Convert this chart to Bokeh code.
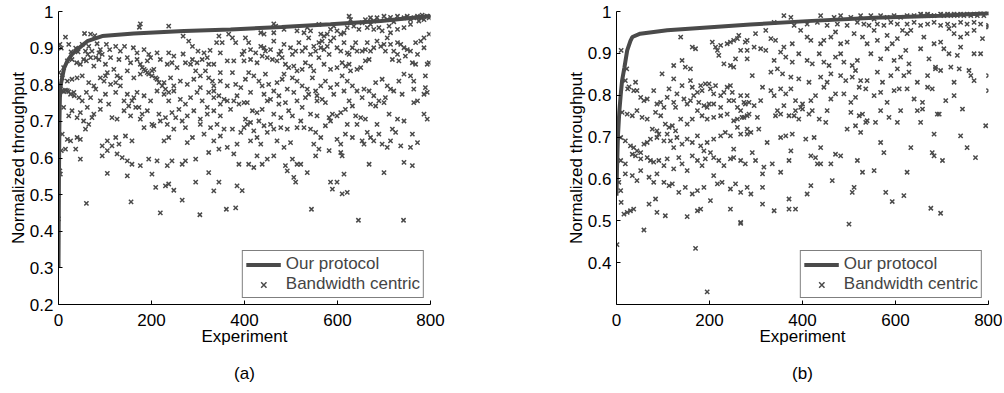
from bokeh.plotting import figure
from bokeh.layouts import row
from bokeh.models import (FixedTicker, CustomJSTickFormatter, Legend, LegendItem,
                          LinearAxis, Range1d)
from bokeh.embed import file_html
from bokeh.resources import INLINE

FONT = "Liberation Sans"

# ---------------- Panel (a) ----------------
a_protocol_x = [0, 1, 2, 3, 5, 8, 12, 19, 29, 44, 62, 94, 162, 270, 370, 480, 585, 693, 800]
a_protocol_y = [0.30, 0.55, 0.70, 0.765, 0.80, 0.82, 0.845, 0.865, 0.883, 0.90, 0.919, 0.933,
                0.94, 0.947, 0.951, 0.958, 0.965, 0.974, 0.988]

a_experiment = [
    176, 174, 237, 15, 56, 69, 78, 268, 345, 352, 366,
    3, 6, 22, 27, 37, 42, 51, 65, 83, 90, 103, 110, 123, 133, 142, 161, 169, 184, 194, 212, 237, 248, 268, 280, 288, 300, 313, 326, 340, 348,
    11, 19, 29, 39, 47, 60, 69, 76, 87, 94, 101, 112, 119, 130, 148, 155, 169, 176, 191, 198, 205, 219, 234, 244, 255, 273, 288, 298, 309, 320, 334, 348, 363,
    1, 8, 19, 29, 40, 51, 65, 76, 98, 105, 123, 133, 148, 162, 176, 184, 191, 201, 212, 227, 241, 248, 262, 277, 291, 305, 323, 334, 348, 363,
    4, 11, 19, 26, 34, 44, 51, 60, 69, 80, 90, 101, 108, 123, 133, 148, 158, 169, 184, 198, 212, 227, 237, 248, 262, 273, 284, 298, 309, 320, 334, 348, 363,
    11, 22, 29, 40, 47, 62, 76, 90, 115, 126, 141, 155, 166, 176, 191, 201, 216, 230, 244, 259, 277, 291, 305, 320, 334, 348, 370,
    8, 19, 26, 40, 47, 58, 94, 105, 123, 130, 144, 158, 184, 205, 227, 237, 248, 277, 288, 313, 334, 348, 363,
    6, 15, 37, 47, 94, 105, 115, 126, 137, 148, 158, 176, 194, 212, 234, 244, 266, 273, 295, 323, 345,
    3, 4, 105, 148, 201, 209, 230, 237, 248, 266, 295, 323, 334, 345,
    0, 60, 156, 219, 304, 361, 381, 544, 645, 742,
    8, 15, 22, 33, 58, 63, 72, 80, 87, 54, 180, 187, 194, 201, 209, 216, 223, 230, 237,
    284, 295, 305, 316, 323, 331, 323, 334, 345, 356, 90, 101, 112, 126, 141, 151, 162, 173, 180,
    54, 65, 72, 219, 234, 252, 266, 273, 305, 327, 341, 356,
    463, 467, 560, 625, 628, 660, 671, 678, 685, 700, 707, 714, 721, 729, 743, 750, 757, 764, 772, 779, 782, 786, 793, 797, 800,
    775, 757, 743, 729, 714, 711, 696, 689, 678, 671, 664, 653, 646, 635, 621, 614, 599, 592, 585, 578, 571, 564, 542, 535, 528, 513, 485, 463, 442, 435, 402, 374,
    381, 399, 409, 424, 435, 442, 456, 463, 478, 485, 499, 510, 517, 524, 531, 538, 542, 553, 564, 571, 578, 585, 592, 599, 607, 614, 621, 625, 642, 653, 660, 671, 685, 693, 700, 707, 714, 721, 729, 736, 743, 750, 757, 768, 779, 786, 797,
    377, 395, 399, 413, 427, 438, 449, 460, 470, 481, 488, 495, 506, 513, 524, 531, 542, 549, 560, 571, 585, 599, 610, 617, 625, 628, 642, 650, 660, 668, 718, 732, 761, 768, 793, 797,
    374, 381, 392, 402, 409, 420, 431, 438, 445, 452, 463, 470, 481, 485, 492, 503, 513, 524, 535, 546, 553, 564, 574, 585, 599, 610, 621, 632, 642, 657, 668, 682, 696, 707, 714, 721, 732, 743, 757, 764, 764, 789, 789, 793, 786,
    377, 388, 399, 406, 417, 427, 438, 449, 456, 463, 474, 488, 495, 503, 513, 524, 531, 542, 556, 567, 574, 582, 589, 599, 607, 617, 625, 632, 639, 650, 660, 671, 682, 689, 700, 711, 729, 764, 793,
    374, 384, 392, 399, 406, 413, 420, 427, 435, 442, 449, 456, 463, 470, 478, 492, 499, 513, 528, 542, 553, 564, 574, 585, 599, 607, 632, 642, 653, 664, 671, 678, 689, 696, 707, 718, 725, 736, 757, 772,
    377, 388, 409, 420, 427, 438, 449, 463, 488, 492, 503, 513, 521, 535, 553, 560, 582, 607, 610, 668, 700, 743, 761,
    384, 395, 506, 510, 585, 599, 589, 614, 610, 621,
    413, 445, 474, 503, 549, 560, 567, 582, 607, 632, 639, 664, 678, 703, 729, 746, 772, 786,
    384, 413, 442, 474, 506, 538, 556, 592, 614, 653, 678, 703, 739, 772,
    402, 431, 478, 521, 556, 621, 685, 743, 786,
    413, 485, 549, 617, 657, 714, 761,
]
a_bandwidth = [
    0.966, 0.957, 0.960, 0.930, 0.940, 0.938, 0.934, 0.933, 0.933, 0.915, 0.938,
    0.910, 0.900, 0.910, 0.890, 0.900, 0.890, 0.910, 0.905, 0.912, 0.896, 0.910, 0.896, 0.905, 0.892, 0.905, 0.901, 0.887, 0.896, 0.883, 0.887, 0.887, 0.878, 0.884, 0.919, 0.905, 0.892, 0.887, 0.894, 0.915, 0.887,
    0.847, 0.865, 0.869, 0.860, 0.856, 0.865, 0.874, 0.851, 0.869, 0.883, 0.856, 0.874, 0.842, 0.869, 0.874, 0.860, 0.869, 0.856, 0.865, 0.874, 0.842, 0.869, 0.856, 0.860, 0.847, 0.860, 0.869, 0.860, 0.869, 0.874, 0.856, 0.833, 0.865,
    0.833, 0.819, 0.810, 0.815, 0.819, 0.824, 0.806, 0.797, 0.810, 0.833, 0.806, 0.819, 0.838, 0.819, 0.829, 0.842, 0.833, 0.824, 0.815, 0.806, 0.819, 0.797, 0.810, 0.801, 0.815, 0.792, 0.819, 0.797, 0.810, 0.797,
    0.788, 0.781, 0.784, 0.774, 0.770, 0.765, 0.756, 0.779, 0.765, 0.788, 0.756, 0.774, 0.747, 0.779, 0.797, 0.774, 0.756, 0.779, 0.770, 0.756, 0.783, 0.774, 0.756, 0.783, 0.760, 0.747, 0.765, 0.779, 0.756, 0.738, 0.765, 0.747, 0.756,
    0.738, 0.715, 0.729, 0.710, 0.724, 0.738, 0.720, 0.733, 0.710, 0.706, 0.729, 0.715, 0.738, 0.706, 0.729, 0.692, 0.720, 0.710, 0.724, 0.733, 0.715, 0.729, 0.706, 0.720, 0.729, 0.715, 0.733,
    0.665, 0.651, 0.647, 0.656, 0.651, 0.679, 0.633, 0.647, 0.656, 0.638, 0.660, 0.647, 0.683, 0.688, 0.647, 0.656, 0.679, 0.642, 0.656, 0.665, 0.647, 0.660, 0.629,
    0.620, 0.624, 0.624, 0.597, 0.606, 0.620, 0.633, 0.611, 0.601, 0.592, 0.583, 0.579, 0.597, 0.592, 0.579, 0.592, 0.583, 0.592, 0.597, 0.615, 0.624,
    0.565, 0.556, 0.558, 0.551, 0.556, 0.520, 0.524, 0.529, 0.512, 0.485, 0.534, 0.560, 0.510, 0.534,
    0.434, 0.476, 0.480, 0.450, 0.445, 0.460, 0.464, 0.460, 0.430, 0.430,
    0.783, 0.785, 0.781, 0.779, 0.892, 0.883, 0.892, 0.874, 0.887, 0.869, 0.847, 0.838, 0.829, 0.838, 0.819, 0.806, 0.797, 0.788, 0.779,
    0.856, 0.838, 0.824, 0.838, 0.856, 0.810, 0.779, 0.783, 0.770, 0.760, 0.819, 0.824, 0.801, 0.824, 0.756, 0.742, 0.765, 0.738, 0.720,
    0.701, 0.692, 0.710, 0.701, 0.692, 0.710, 0.701, 0.683, 0.692, 0.683, 0.692, 0.679,
    0.966, 0.960, 0.965, 0.987, 0.978, 0.978, 0.983, 0.974, 0.983, 0.987, 0.978, 0.984, 0.972, 0.987, 0.983, 0.987, 0.978, 0.983, 0.987, 0.983, 0.990, 0.978, 0.987, 0.983, 0.987,
    0.974, 0.965, 0.956, 0.951, 0.942, 0.960, 0.947, 0.956, 0.951, 0.965, 0.956, 0.969, 0.951, 0.960, 0.956, 0.942, 0.947, 0.960, 0.951, 0.938, 0.933, 0.938, 0.947, 0.956, 0.942, 0.947, 0.951, 0.942, 0.938, 0.942, 0.928, 0.928,
    0.915, 0.892, 0.915, 0.887, 0.905, 0.901, 0.896, 0.919, 0.892, 0.910, 0.901, 0.892, 0.915, 0.892, 0.901, 0.928, 0.883, 0.892, 0.901, 0.896, 0.905, 0.919, 0.928, 0.901, 0.938, 0.915, 0.887, 0.883, 0.892, 0.892, 0.896, 0.892, 0.919, 0.905, 0.910, 0.928, 0.910, 0.892, 0.915, 0.910, 0.901, 0.896, 0.892, 0.915, 0.919, 0.928, 0.938,
    0.865, 0.883, 0.865, 0.869, 0.860, 0.878, 0.874, 0.869, 0.865, 0.874, 0.856, 0.847, 0.851, 0.838, 0.842, 0.860, 0.851, 0.838, 0.874, 0.856, 0.842, 0.847, 0.860, 0.851, 0.856, 0.838, 0.842, 0.847, 0.865, 0.869, 0.869, 0.865, 0.860, 0.856, 0.856, 0.860,
    0.833, 0.801, 0.792, 0.815, 0.833, 0.824, 0.810, 0.797, 0.829, 0.801, 0.783, 0.806, 0.815, 0.829, 0.788, 0.819, 0.810, 0.797, 0.788, 0.819, 0.783, 0.797, 0.810, 0.792, 0.801, 0.824, 0.810, 0.797, 0.783, 0.788, 0.783, 0.806, 0.815, 0.797, 0.788, 0.783, 0.810, 0.829, 0.824, 0.810, 0.788, 0.824, 0.792, 0.779, 0.774,
    0.756, 0.747, 0.751, 0.751, 0.729, 0.724, 0.733, 0.756, 0.760, 0.720, 0.747, 0.751, 0.729, 0.715, 0.756, 0.738, 0.765, 0.720, 0.756, 0.760, 0.751, 0.710, 0.720, 0.715, 0.724, 0.733, 0.756, 0.742, 0.715, 0.710, 0.706, 0.747, 0.742, 0.756, 0.751, 0.720, 0.706, 0.751, 0.706,
    0.679, 0.638, 0.670, 0.683, 0.692, 0.697, 0.674, 0.656, 0.638, 0.688, 0.670, 0.692, 0.679, 0.647, 0.683, 0.679, 0.642, 0.683, 0.683, 0.679, 0.670, 0.656, 0.688, 0.701, 0.651, 0.638, 0.656, 0.692, 0.647, 0.670, 0.656, 0.647, 0.665, 0.638, 0.629, 0.679, 0.670, 0.633, 0.629, 0.642,
    0.611, 0.583, 0.583, 0.574, 0.606, 0.583, 0.597, 0.606, 0.579, 0.565, 0.597, 0.583, 0.583, 0.560, 0.606, 0.624, 0.620, 0.615, 0.606, 0.583, 0.560, 0.588, 0.579,
    0.524, 0.511, 0.547, 0.534, 0.534, 0.534, 0.515, 0.556, 0.502, 0.506,
    0.896, 0.892, 0.883, 0.883, 0.905, 0.915, 0.919, 0.883, 0.892, 0.901, 0.915, 0.915, 0.901, 0.892, 0.883, 0.878, 0.883, 0.901,
    0.770, 0.779, 0.774, 0.770, 0.779, 0.774, 0.770, 0.774, 0.783, 0.765, 0.770, 0.765, 0.774, 0.756,
    0.706, 0.701, 0.710, 0.701, 0.715, 0.692, 0.692, 0.701, 0.720,
    0.647, 0.629, 0.638, 0.665, 0.638, 0.647, 0.665,
]

# ---------------- Panel (b) ----------------
b_protocol_x = [0, 1, 3, 6, 9, 12, 17, 23, 30, 34, 51, 109, 288, 410, 554, 697, 800]
b_protocol_y = [0.56, 0.62, 0.70, 0.76, 0.80, 0.835, 0.866, 0.907, 0.93, 0.939, 0.947, 0.955,
                0.969, 0.977, 0.985, 0.99, 0.996]

b_experiment = [
    138, 163, 170, 206, 213, 217, 224, 220, 238, 245, 252, 260, 263, 277, 281, 231, 245, 252, 256, 267, 281,
    141, 148, 159, 123, 98, 123, 141, 159, 163, 174, 181, 184, 191, 199, 202, 209, 213, 224, 231, 238, 245, 249, 267, 274, 281,
    19, 41, 37, 44, 52, 59, 66, 80, 87, 95, 102, 109, 113, 123, 127, 130, 145, 152, 159, 166, 177, 188, 195, 199, 209, 224, 242, 252, 260, 267, 277,
    12, 23, 34, 44, 55, 66, 84, 95, 105, 113, 120, 127, 138, 152, 163, 174, 184, 195, 209, 224, 238, 252, 260, 270, 281, 77, 87, 91,
    9, 19, 30, 37, 44, 52, 59, 66, 73, 87, 102, 109, 116, 123, 130, 141, 152, 163, 174, 181, 188, 195, 209, 224, 234, 245, 260, 267, 281, 252,
    9, 19, 34, 41, 52, 66, 73, 80, 91, 102, 109, 123, 134, 141, 152, 163, 174, 184, 191, 202, 209, 220, 231, 245, 252, 267, 277,
    5, 9, 19, 34, 44, 52, 70, 80, 87, 102, 113, 120, 134, 148, 163, 174, 188, 209, 217, 227, 245, 256, 267, 281,
    10, 22, 27, 24,
    10, 16, 23, 30, 37, 70, 87, 105, 152, 181, 174, 202, 245, 267, 1, 59, 170, 195, 84,
    360, 375, 439, 468, 482, 504, 525, 547, 554, 568, 582, 597, 611, 625, 640, 654, 669, 683, 697, 712, 726, 740, 754, 769, 783, 798,
    339, 382, 410, 432, 453, 475, 496, 518, 532, 543, 561, 575, 590, 604, 625, 640, 654, 669, 683, 697, 712, 726, 740, 754, 769, 783, 800,
    661, 676, 704, 719, 733, 747, 762, 776, 790,
    281, 299, 321, 332, 342, 360, 378, 396, 410, 418, 439, 446, 461, 471, 482, 496, 511, 529, 539, 554, 561, 582, 593, 604, 615, 625, 633, 661, 683, 697, 715, 726, 740, 754, 769, 787, 800,
    296, 310, 321, 339, 353, 364, 378, 392, 410, 421, 436, 446, 457, 471, 482, 489, 507, 518, 547, 568, 582, 597, 611, 622, 629, 654, 672, 686, 704, 715, 733, 740, 769, 783, 719, 737, 758,
    292, 314, 332, 346, 357, 375, 392, 414, 439, 453, 461, 482, 493, 507, 514, 525, 539, 561, 572, 590, 604, 618, 629, 647, 669, 686, 697, 726, 762, 769, 800,
    285, 296, 310, 332, 339, 353, 364, 375, 385, 400, 418, 428, 446, 461, 471, 489, 504, 514, 522, 536, 554, 568, 582, 597, 608, 625, 640, 658, 669, 679, 708, 726, 744, 800,
    303, 342, 353, 371, 385, 392, 400, 414, 436, 450, 453, 496, 514, 529, 539, 557, 586, 604, 647, 654, 690, 794,
    281, 306, 324, 353, 364, 378, 407, 425, 439, 525, 568, 633, 683, 740, 754,
    292, 299, 317, 314, 335, 353, 371, 375, 418, 428, 432, 439, 461, 464, 471, 482, 518, 529, 554, 575, 625, 679, 683, 701, 772,
    289, 314, 371, 410, 418, 507, 511, 579, 618,
    314, 339, 371, 385, 500, 593, 676, 697, 267,
    274, 285, 289, 346, 360, 382, 396, 421, 504, 522, 536, 568, 611, 658, 694,
]
b_bandwidth = [
    0.939, 0.915, 0.911, 0.927, 0.915, 0.907, 0.919, 0.895, 0.923, 0.927, 0.931, 0.935, 0.943, 0.927, 0.887, 0.875, 0.871, 0.867, 0.887, 0.907, 0.907,
    0.883, 0.867, 0.863, 0.871, 0.851, 0.839, 0.823, 0.835, 0.819, 0.807, 0.823, 0.811, 0.827, 0.827, 0.815, 0.803, 0.823, 0.799, 0.807, 0.819, 0.823, 0.807, 0.799, 0.783, 0.799,
    0.835, 0.831, 0.811, 0.811, 0.795, 0.787, 0.791, 0.811, 0.779, 0.783, 0.771, 0.795, 0.815, 0.783, 0.771, 0.803, 0.791, 0.779, 0.787, 0.799, 0.783, 0.775, 0.771, 0.779, 0.779, 0.771, 0.787, 0.787, 0.771, 0.763, 0.779,
    0.759, 0.755, 0.751, 0.763, 0.747, 0.743, 0.759, 0.751, 0.731, 0.723, 0.727, 0.715, 0.743, 0.731, 0.743, 0.763, 0.751, 0.743, 0.747, 0.751, 0.755, 0.739, 0.743, 0.747, 0.751, 0.719, 0.715, 0.707,
    0.699, 0.691, 0.679, 0.675, 0.667, 0.663, 0.683, 0.687, 0.695, 0.699, 0.691, 0.707, 0.691, 0.675, 0.699, 0.683, 0.695, 0.687, 0.703, 0.679, 0.667, 0.687, 0.695, 0.703, 0.711, 0.703, 0.723, 0.707, 0.707, 0.671,
    0.644, 0.636, 0.659, 0.655, 0.648, 0.651, 0.644, 0.640, 0.644, 0.632, 0.648, 0.624, 0.651, 0.636, 0.620, 0.655, 0.644, 0.632, 0.648, 0.663, 0.651, 0.644, 0.632, 0.648, 0.651, 0.644, 0.636,
    0.592, 0.572, 0.612, 0.608, 0.596, 0.620, 0.604, 0.592, 0.612, 0.592, 0.584, 0.588, 0.568, 0.580, 0.564, 0.572, 0.580, 0.608, 0.588, 0.592, 0.576, 0.588, 0.568, 0.580,
    0.907, 0.863, 0.820, 0.815,
    0.544, 0.516, 0.520, 0.524, 0.528, 0.540, 0.520, 0.512, 0.510, 0.528, 0.524, 0.548, 0.528, 0.494, 0.443, 0.478, 0.434, 0.330, 0.552,
    0.990, 0.986, 0.990, 0.986, 0.990, 0.986, 0.990, 0.990, 0.982, 0.990, 0.986, 0.990, 0.986, 0.990, 0.990, 0.994, 0.994, 0.990, 0.994, 0.994, 0.994, 0.994, 0.994, 0.994, 0.996, 0.996,
    0.974, 0.967, 0.970, 0.974, 0.967, 0.970, 0.967, 0.974, 0.970, 0.967, 0.970, 0.967, 0.974, 0.970, 0.970, 0.974, 0.967, 0.970, 0.974, 0.967, 0.970, 0.967, 0.974, 0.970, 0.974, 0.970, 0.967,
    0.990, 0.990, 0.990, 0.990, 0.990, 0.990, 0.990, 0.990, 0.990,
    0.931, 0.947, 0.955, 0.935, 0.931, 0.915, 0.923, 0.955, 0.939, 0.931, 0.923, 0.931, 0.939, 0.951, 0.923, 0.927, 0.947, 0.939, 0.923, 0.955, 0.931, 0.943, 0.923, 0.935, 0.955, 0.947, 0.955, 0.939, 0.923, 0.927, 0.959, 0.947, 0.939, 0.947, 0.955, 0.935, 0.963,
    0.915, 0.911, 0.907, 0.883, 0.903, 0.891, 0.879, 0.899, 0.883, 0.875, 0.899, 0.879, 0.871, 0.891, 0.899, 0.879, 0.871, 0.883, 0.899, 0.887, 0.911, 0.883, 0.891, 0.907, 0.875, 0.911, 0.887, 0.867, 0.911, 0.899, 0.895, 0.915, 0.899, 0.899, 0.867, 0.863, 0.859,
    0.847, 0.819, 0.855, 0.863, 0.851, 0.843, 0.839, 0.831, 0.843, 0.831, 0.851, 0.847, 0.835, 0.843, 0.859, 0.835, 0.835, 0.855, 0.831, 0.847, 0.863, 0.847, 0.855, 0.831, 0.847, 0.863, 0.859, 0.831, 0.847, 0.835, 0.847,
    0.783, 0.775, 0.787, 0.811, 0.799, 0.815, 0.803, 0.815, 0.787, 0.779, 0.787, 0.799, 0.819, 0.791, 0.803, 0.803, 0.783, 0.795, 0.819, 0.815, 0.799, 0.807, 0.783, 0.811, 0.815, 0.815, 0.791, 0.783, 0.819, 0.815, 0.787, 0.799, 0.767, 0.811,
    0.747, 0.751, 0.755, 0.751, 0.763, 0.743, 0.767, 0.755, 0.743, 0.735, 0.763, 0.719, 0.727, 0.755, 0.739, 0.735, 0.747, 0.735, 0.763, 0.735, 0.755, 0.727,
    0.719, 0.719, 0.687, 0.699, 0.703, 0.707, 0.695, 0.699, 0.675, 0.711, 0.687, 0.675, 0.707, 0.703, 0.675,
    0.663, 0.644, 0.628, 0.612, 0.636, 0.616, 0.644, 0.667, 0.655, 0.651, 0.636, 0.636, 0.636, 0.596, 0.659, 0.655, 0.644, 0.616, 0.620, 0.663, 0.616, 0.663, 0.655, 0.644, 0.651,
    0.564, 0.580, 0.552, 0.564, 0.584, 0.568, 0.580, 0.568, 0.560,
    0.540, 0.524, 0.528, 0.528, 0.492, 0.546, 0.530, 0.518, 0.496,
    0.747, 0.755, 0.711, 0.763, 0.775, 0.751, 0.771, 0.763, 0.759, 0.751, 0.735, 0.763, 0.763, 0.767, 0.755,
]

x_ticks = [0, 200, 400, 600, 800]
a_y_ticks = [0.2, 0.3, 0.4, 0.5, 0.6, 0.7, 0.8, 0.9, 1.0]
b_y_ticks = [0.4, 0.5, 0.6, 0.7, 0.8, 0.9, 1.0]

LINE_COLOR = "#4a4a4a"
MARK_COLOR = "#4a4a4a"


def make_panel(xs, ys, cx, cy, y_start, y_ticks, tag, width, border_left, border_right):
    p = figure(width=width, height=393, output_backend="svg", toolbar_location=None,
               x_range=Range1d(0, 800), y_range=Range1d(y_start, 1.0),
               min_border_left=border_left, min_border_right=border_right,
               min_border_top=11, min_border_bottom=89)
    p.outline_line_color = None
    p.xgrid.visible = False
    p.ygrid.visible = False
    p.background_fill_color = "white"
    p.border_fill_color = "white"

    scat = p.scatter(xs, ys, marker="x", size=6, line_color=MARK_COLOR, line_width=1.5)
    ln = p.line(cx, cy, line_color=LINE_COLOR, line_width=4)

    for ax in (p.xaxis[0], p.yaxis[0]):
        ax.major_tick_in = 4
        ax.major_tick_out = 0
        ax.minor_tick_in = 0
        ax.minor_tick_out = 0
        ax.axis_line_color = "black"
        ax.major_tick_line_color = "black"
        ax.major_label_text_font = FONT
        ax.major_label_text_font_size = "17px"
        ax.major_label_text_color = "black"
        ax.axis_label_text_font = FONT
        ax.axis_label_text_font_size = "17px"
        ax.axis_label_text_font_style = "normal"
        ax.axis_label_text_color = "black"

    p.xaxis.ticker = FixedTicker(ticks=x_ticks)
    p.xaxis.axis_label = "Experiment"
    p.xaxis.major_label_standoff = 9
    p.xaxis.axis_label_standoff = -2
    p.yaxis.ticker = FixedTicker(ticks=y_ticks)
    p.yaxis.formatter = CustomJSTickFormatter(
        code="return tick > 0.999 ? '1' : tick.toFixed(1);")
    p.yaxis.axis_label = "Normalized throughput"
    p.yaxis.major_label_standoff = 5
    p.yaxis.axis_label_standoff = -1

    # panel tag "(a)" / "(b)" as the label of an empty axis under the x axis
    tag_axis = LinearAxis(ticker=FixedTicker(ticks=[]), axis_label=tag,
                          axis_line_color=None, major_tick_in=0, major_tick_out=0,
                          minor_tick_in=0, minor_tick_out=0, major_label_standoff=0,
                          axis_label_standoff=15, axis_label_text_font=FONT,
                          axis_label_text_font_size="17px",
                          axis_label_text_font_style="normal",
                          axis_label_text_color="black")
    p.add_layout(tag_axis, "below")

    legend = Legend(items=[LegendItem(label="Our protocol", renderers=[ln]),
                           LegendItem(label="Bandwidth centric", renderers=[scat])],
                    location="bottom_right")
    legend.border_line_color = "black"
    legend.border_line_width = 1
    legend.background_fill_color = "white"
    legend.background_fill_alpha = 1
    legend.label_text_font = FONT
    legend.label_text_font_size = "17px"
    legend.glyph_width = 35
    legend.glyph_height = 19
    legend.label_height = 19
    legend.label_standoff = 5
    legend.spacing = 0
    legend.padding = 3
    legend.margin = 6
    p.add_layout(legend)
    return p


pa = make_panel(a_experiment, a_bandwidth, a_protocol_x, a_protocol_y, 0.2, a_y_ticks,
                "(a)", 508, 58, 78)
pb = make_panel(b_experiment, b_bandwidth, b_protocol_x, b_protocol_y, 0.3, b_y_ticks,
                "(b)", 494, 108, 14)

layout = row(pa, pb)
open("out.html", "w").write(file_html(layout, INLINE))
